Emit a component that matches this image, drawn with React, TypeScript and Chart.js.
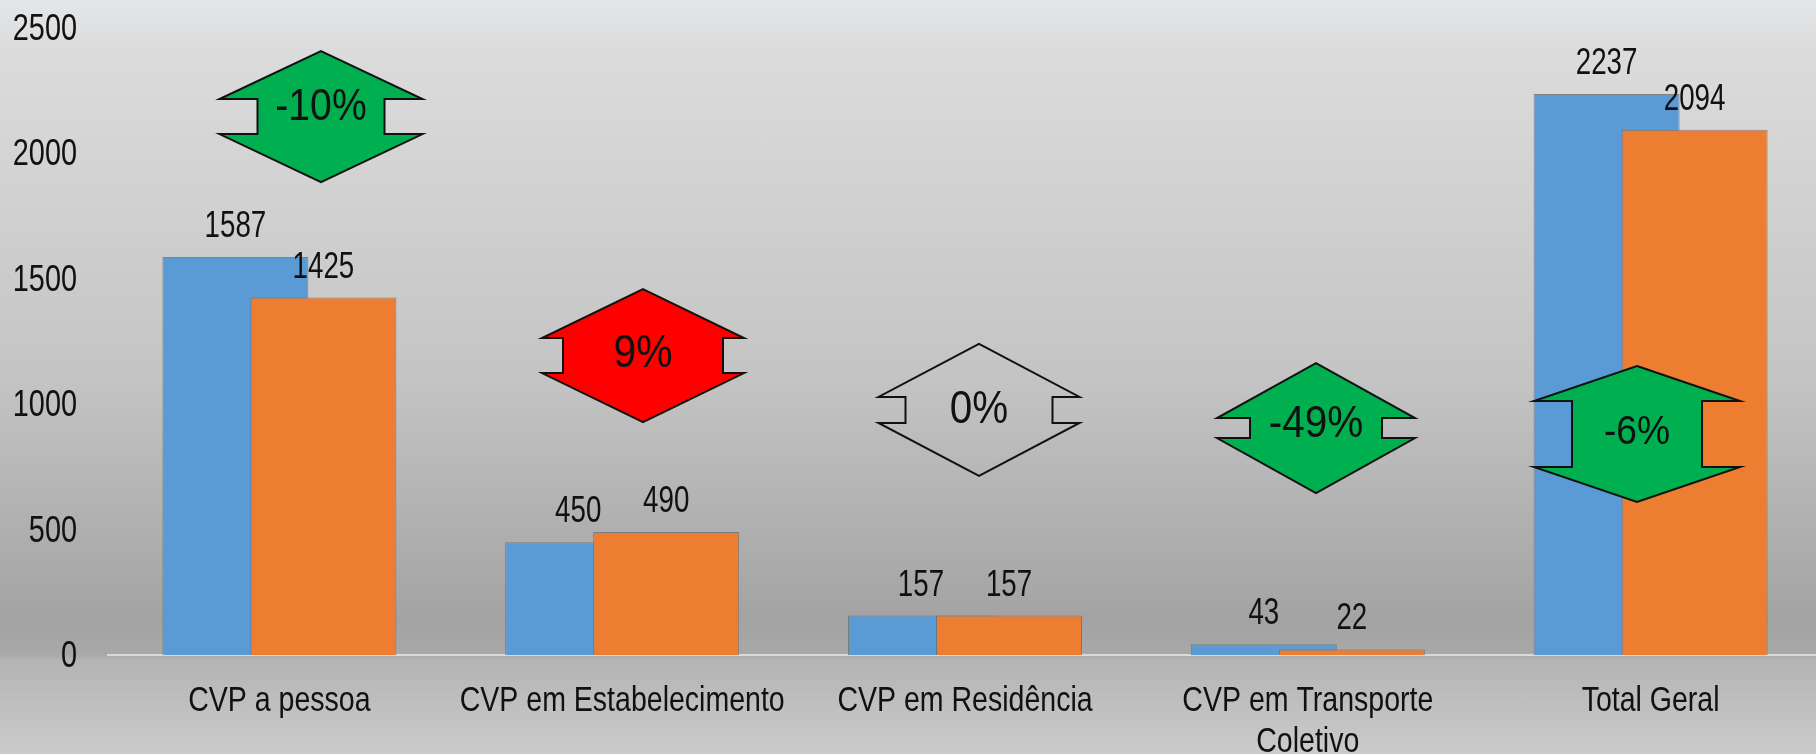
import React, { useEffect, useRef } from "react";
import { Chart, registerables } from "chart.js";

Chart.register(...registerables);

const categories: (string | string[])[] = [
  "CVP a pessoa",
  "CVP em Estabelecimento",
  "CVP em Residência",
  ["CVP em Transporte", "Coletivo"],
  "Total Geral",
];
const seriesA = [1587, 450, 157, 43, 2237];
const seriesB = [1425, 490, 157, 22, 2094];
const yTicks = [0, 500, 1000, 1500, 2000, 2500];
const changeLabels = ["-10%", "9%", "0%", "-49%", "-6%"];
const changeFills = ["#00b050", "#ff0000", "transparent", "#00b050", "#00b050"];
// badge centre expressed as a value on the y axis
const changeCentres = [2147, 1194, 977, 905, 881];
const badgeGeom = [
  { dx: 41.6, w: 101.5, d: 38, n: 17.5, s: 48, ty: 3.5, fs: 45, sx: 0.87 },
  { dx: 20.8, w: 101, d: 21, n: 17.5, s: 49, ty: 11.5, fs: 47, sx: 0.87 },
  { dx: 14, w: 100.5, d: 27, n: 13, s: 53, ty: 13, fs: 47, sx: 0.86 },
  { dx: 8.2, w: 99, d: 33, n: 10, s: 55, ty: 9, fs: 45, sx: 0.9 },
  { dx: -13.6, w: 103, d: 38, n: 33, s: 35, ty: 10, fs: 40, sx: 0.93 },
];

const FONT = '"Liberation Sans", Arial, sans-serif';

function drawText(
  ctx: CanvasRenderingContext2D,
  text: string,
  x: number,
  y: number,
  size: number,
  align: CanvasTextAlign,
  sx: number
) {
  ctx.save();
  ctx.translate(x, y);
  ctx.scale(sx, 1);
  ctx.font = `${size}px ${FONT}`;
  ctx.textAlign = align;
  ctx.textBaseline = "alphabetic";
  ctx.fillStyle = "#111";
  ctx.fillText(text, 0, 0);
  ctx.restore();
}

const orderPlugin = {
  id: "orderPlugin",
  beforeDatasetDraw(chart: any, args: any) {
    if (args.index === 1) return false;
  },
  afterDatasetDraw(chart: any, args: any) {
    if (args.index === 0) {
      chart.getDatasetMeta(1).controller.draw();
    }
  },
};

const overlayPlugin = {
  id: "overlayPlugin",
  afterDatasetsDraw(chart: any) {
    const ctx = chart.ctx;
    const xs = chart.scales.x;
    const ys = chart.scales.y;
    const area = chart.chartArea;
    ctx.save();
    // y tick labels
    ys.ticks.forEach((t: any) => {
      drawText(ctx, String(t.value), area.left - 31, ys.getPixelForValue(t.value) + 12, 37.5, "right", 0.77);
    });
    // x category labels
    categories.forEach((c, i) => {
      const lines = Array.isArray(c) ? c : [c];
      const x = xs.getPixelForValue(i);
      lines.forEach((ln, k) => {
        drawText(ctx, ln, x, area.bottom + 56 + k * 41, 35, "center", 0.815);
      });
    });
    // badges
    changeLabels.forEach((lab, i) => {
      const g = badgeGeom[i];
      const cx = xs.getPixelForValue(i) + g.dx;
      const cy = ys.getPixelForValue(changeCentres[i]);
      const { w, d, n, s } = g;
      ctx.beginPath();
      ctx.moveTo(cx, cy - n - s);
      ctx.lineTo(cx + w, cy - n);
      ctx.lineTo(cx + w - d, cy - n);
      ctx.lineTo(cx + w - d, cy + n);
      ctx.lineTo(cx + w, cy + n);
      ctx.lineTo(cx, cy + n + s);
      ctx.lineTo(cx - w, cy + n);
      ctx.lineTo(cx - w + d, cy + n);
      ctx.lineTo(cx - w + d, cy - n);
      ctx.lineTo(cx - w, cy - n);
      ctx.closePath();
      if (changeFills[i] !== "transparent") {
        ctx.fillStyle = changeFills[i];
        ctx.fill();
      }
      ctx.lineWidth = 2;
      ctx.lineJoin = "miter";
      ctx.strokeStyle = "#111";
      ctx.stroke();
      drawText(ctx, lab, cx, cy + g.ty, g.fs, "center", g.sx);
    });
    // value labels
    chart.data.datasets.forEach((ds: any, di: number) => {
      const meta = chart.getDatasetMeta(di);
      meta.data.forEach((el: any, i: number) => {
        drawText(ctx, String(ds.data[i]), el.x, el.y - 20, 36, "center", 0.77);
      });
    });
    ctx.restore();
  },
};

export default function App() {
  const ref = useRef<HTMLCanvasElement>(null);
  useEffect(() => {
    if (!ref.current) return;
    const chart = new Chart(ref.current, {
      type: "bar",
      data: {
        labels: categories,
        datasets: [
          {
            label: "A",
            data: seriesA,
            backgroundColor: "#5b9bd5",
            borderColor: "rgba(110,110,110,0.8)",
            borderWidth: 1,
            categoryPercentage: 0.5135,
            barPercentage: 1.659,
          },
          {
            label: "B",
            data: seriesB,
            backgroundColor: "#ed7d31",
            borderColor: "rgba(110,110,110,0.8)",
            borderWidth: 1,
            categoryPercentage: 0.5135,
            barPercentage: 1.659,
          },
        ],
      },
      options: {
        animation: false,
        responsive: false,
        maintainAspectRatio: false,
        layout: { padding: { top: 28, right: 8, left: 0, bottom: 0 } },
        plugins: { legend: { display: false }, tooltip: { enabled: false } },
        scales: {
          x: {
            grid: { display: false, drawTicks: false },
            border: { display: true, color: "#dadada", width: 2 },
            ticks: { display: false },
            afterFit: (s: any) => {
              s.height = 115;
            },
          },
          y: {
            min: 0,
            max: 2500,
            afterBuildTicks: (s: any) => {
              s.ticks = yTicks.map((v) => ({ value: v }));
            },
            grid: { display: false, drawTicks: false },
            border: { display: false },
            ticks: { display: false },
            afterFit: (s: any) => {
              s.width = 108;
            },
          },
        },
      },
      plugins: [orderPlugin, overlayPlugin],
    });
    return () => chart.destroy();
  }, []);
  return (
    <div
      style={{
        position: "fixed",
        left: 0,
        top: 0,
        width: 1816,
        height: 754,
        overflow: "hidden",
        background:
          "linear-gradient(to bottom, #e3e7ea 0px, #dcdcdc 48px, #c4c4c4 377px, #a3a3a3 620px, #a8a8a8 654px, #b4b4b4 660px, #cbcbcb 754px)",
      }}
    >
      <canvas ref={ref} width={1830} height={770} style={{ display: "block" }} />
    </div>
  );
}
